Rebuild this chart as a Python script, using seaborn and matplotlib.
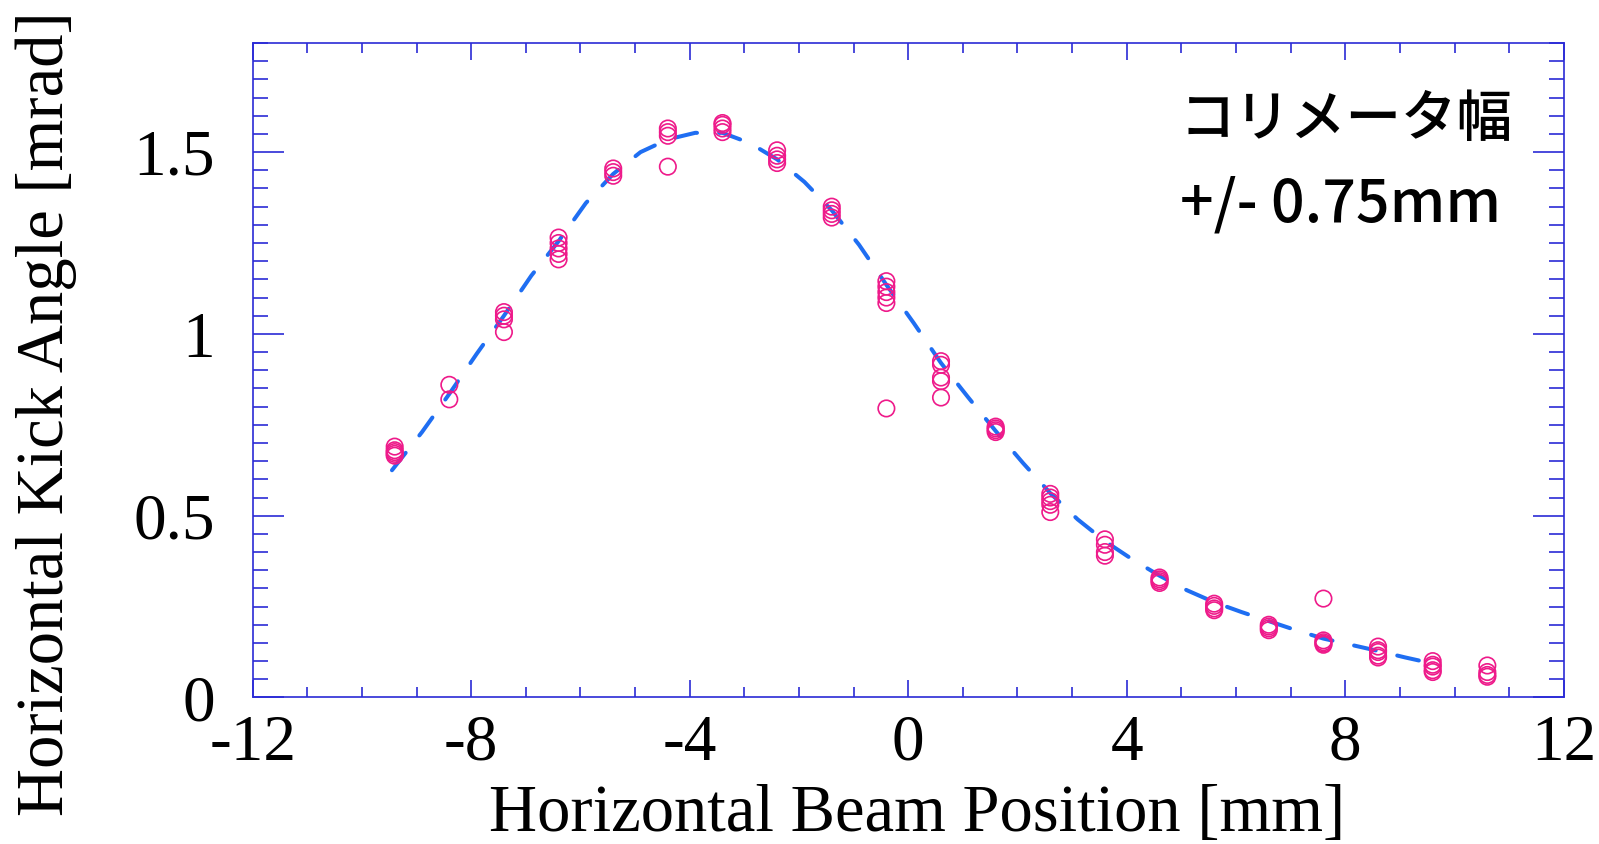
import matplotlib
matplotlib.use("Agg")
import matplotlib.pyplot as plt
import seaborn as sns
import pandas as pd
from matplotlib.ticker import MultipleLocator, FuncFormatter

# ---- data ----
cluster_x = [-9.4, -8.4, -7.4, -6.4, -5.4, -4.4, -3.4, -2.4, -1.4, -0.4, 0.6,
             1.6, 2.6, 3.6, 4.6, 5.6, 6.6, 7.6, 8.6, 9.6, 10.6]
cluster_y = [
    [0.69, 0.68, 0.675, 0.67, 0.665],
    [0.86, 0.82],
    [1.06, 1.05, 1.04, 1.005],
    [1.265, 1.25, 1.235, 1.22, 1.205],
    [1.455, 1.445, 1.435],
    [1.565, 1.555, 1.545, 1.46],
    [1.58, 1.575, 1.565, 1.555],
    [1.505, 1.49, 1.48, 1.47],
    [1.35, 1.34, 1.33, 1.32],
    [1.145, 1.13, 1.115, 1.1, 1.085, 0.795],
    [0.925, 0.915, 0.88, 0.87, 0.825],
    [0.745, 0.74, 0.735, 0.73],
    [0.56, 0.55, 0.54, 0.53, 0.51],
    [0.435, 0.42, 0.40, 0.39],
    [0.33, 0.325, 0.32, 0.315],
    [0.258, 0.252, 0.245, 0.24],
    [0.2, 0.195, 0.19, 0.185],
    [0.272, 0.157, 0.152, 0.148, 0.145],
    [0.14, 0.13, 0.125, 0.115, 0.11],
    [0.1, 0.09, 0.085, 0.075, 0.07],
    [0.088, 0.07, 0.062, 0.057],
]

fit_x = [-9.45, -8.9, -8.4, -7.9, -7.4, -6.9, -6.4, -5.9, -5.4, -4.9, -4.4,
         -3.9, -3.4, -2.9, -2.4, -1.9, -1.4, -0.9, -0.4, 0.1, 0.6, 1.1, 1.6,
         2.1, 2.6, 3.1, 3.6, 4.1, 4.6, 5.1, 5.6, 6.1, 6.6, 7.1, 7.6, 8.1, 8.6,
         9.1, 9.7]
fit_y = [0.625, 0.73, 0.835, 0.945, 1.05, 1.16, 1.255, 1.36, 1.44, 1.50, 1.535,
         1.553, 1.553, 1.525, 1.48, 1.418, 1.34, 1.245, 1.135, 1.03, 0.92, 0.825, 0.733,
         0.645, 0.562, 0.49, 0.43, 0.38, 0.335, 0.295, 0.262, 0.235, 0.21, 0.185, 0.162,
         0.145, 0.128, 0.11, 0.09]

x_ticks = [-12, -8, -4, 0, 4, 8, 12]
y_ticks = [0, 0.5, 1, 1.5]
x_label = "Horizontal Beam Position [mm]"
y_label = "Horizontal Kick Angle [mrad]"
note_line1 = "コリメータ幅"
note_line2 = "+/- 0.75mm"

rows = [(x, y) for x, ys in zip(cluster_x, cluster_y) for y in ys]
df = pd.DataFrame(rows, columns=["x", "y"])
fit_df = pd.DataFrame({"x": fit_x, "y": fit_y})

sns.set_style("white")
plt.rcParams["font.family"] = ["Liberation Serif", "DejaVu Serif"]
plt.rcParams["text.color"] = "black"
plt.rcParams["axes.labelcolor"] = "black"

fig = plt.figure(figsize=(15.99, 8.44), dpi=100)
ax = fig.add_axes([0.158, 0.1736, 0.820, 0.7754])

spine_c = "#2b2bd6"
line_c = "#1f6ef2"
pt_c = "#ee1a8a"

sns.lineplot(data=fit_df, x="x", y="y", ax=ax, color=line_c, lw=2.9,
             dashes=False, zorder=2)
for ln in ax.lines:
    ln.set_dashes((5.5, 5.5))
    ln.set_dash_capstyle("round")

sns.scatterplot(data=df, x="x", y="y", ax=ax, marker="o", s=140,
                facecolors="none", edgecolor=pt_c, linewidth=1.2, zorder=3)

ax.set_xlim(-12, 12)
ax.set_ylim(0, 1.8)
ax.xaxis.set_major_locator(MultipleLocator(4))
ax.xaxis.set_minor_locator(MultipleLocator(1))
ax.yaxis.set_major_locator(MultipleLocator(0.5))
ax.yaxis.set_minor_locator(MultipleLocator(0.05))
ax.set_xticks(x_ticks)
ax.set_yticks(y_ticks)
ax.xaxis.set_major_formatter(FuncFormatter(lambda v, p: f"{v:g}".replace("\u2212", "-")))
ax.yaxis.set_major_formatter(FuncFormatter(lambda v, p: f"{v:g}"))

for s in ax.spines.values():
    s.set_color(spine_c)
    s.set_linewidth(1.2)

ax.tick_params(which="both", direction="in", top=True, right=True,
               bottom=True, left=True, color=spine_c, width=1.2,
               labelcolor="black")
ax.tick_params(axis="y", which="major", length=22, pad=27, labelsize=47)
ax.tick_params(axis="y", which="minor", length=11)
ax.tick_params(axis="x", which="major", length=12, pad=12, labelsize=47)
ax.tick_params(axis="x", which="minor", length=7)

ax.set_xlabel(x_label, fontsize=48, color="black")
ax.set_ylabel(y_label, fontsize=48, color="black")
ax.xaxis.set_label_coords(0.507, -0.132)
ax.yaxis.set_label_coords(-0.134, 0.433)

ax.text(0.707, 0.882, note_line1, transform=ax.transAxes, fontsize=40,
        family=["Noto Sans CJK JP", "DejaVu Sans"], va="center", ha="left",
        weight="medium", color="black")
ax.text(0.707, 0.752, note_line2, transform=ax.transAxes, fontsize=42.5,
        family=["Noto Sans CJK JP", "DejaVu Sans"], va="center", ha="left",
        weight="medium", color="black")

fig.savefig("out.png", dpi=100)
